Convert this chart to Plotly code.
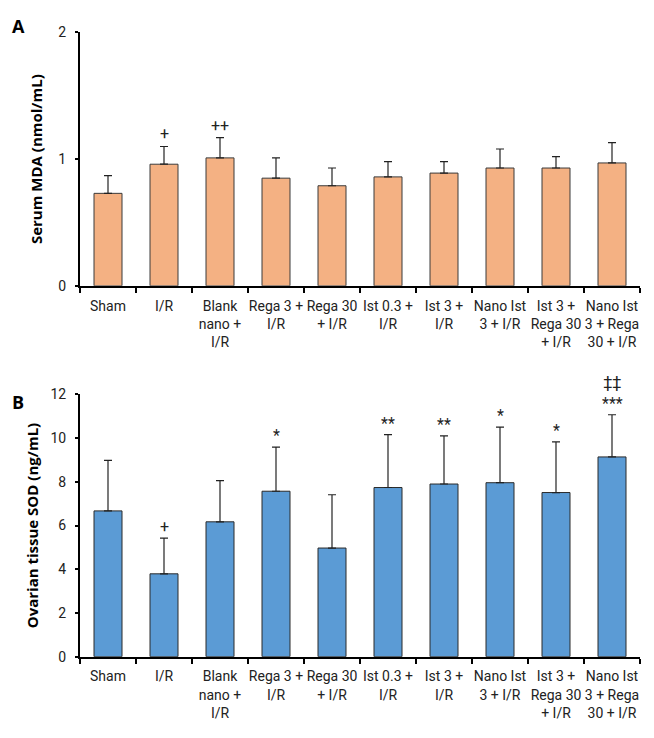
import plotly.graph_objects as go

categories = [
    "Sham", "I/R", "Blank<br>nano +<br>I/R", "Rega 3 +<br>I/R", "Rega 30<br>+ I/R",
    "Ist 0.3 +<br>I/R", "Ist 3 +<br>I/R", "Nano Ist<br>3 + I/R",
    "Ist 3 +<br>Rega 30<br>+ I/R", "Nano Ist<br>3 + Rega<br>30 + I/R",
]

mda_mean = [0.73, 0.96, 1.01, 0.85, 0.79, 0.86, 0.89, 0.93, 0.93, 0.97]
mda_err = [0.14, 0.14, 0.16, 0.16, 0.14, 0.12, 0.09, 0.15, 0.09, 0.16]
mda_marks = ["", "+", "++", "", "", "", "", "", "", ""]

sod_mean = [6.67, 3.79, 6.17, 7.57, 4.97, 7.74, 7.90, 7.96, 7.51, 9.14]
sod_err = [2.31, 1.63, 1.89, 2.02, 2.44, 2.42, 2.20, 2.54, 2.32, 1.93]
sod_marks = ["", "+", "", "*", "", "**", "**", "*", "*", "‡‡<br>***"]

FONT = "Liberation Sans Narrow, Roboto, sans-serif"

fig = go.Figure()

fig.add_trace(go.Bar(
    x=categories, y=mda_mean, xaxis="x", yaxis="y",
    marker=dict(color="#F4B183", line=dict(color="#3a3a3a", width=1)),
    width=0.5,
    error_y=dict(type="data", array=mda_err, arrayminus=[0] * len(mda_err),
                 symmetric=False, color="#222222", thickness=1.2, width=4),
    showlegend=False,
))
fig.add_trace(go.Bar(
    x=categories, y=sod_mean, xaxis="x2", yaxis="y2",
    marker=dict(color="#5B9BD5", line=dict(color="#2a2a2a", width=1)),
    width=0.5,
    error_y=dict(type="data", array=sod_err, arrayminus=[0] * len(sod_err),
                 symmetric=False, color="#222222", thickness=1.2, width=4),
    showlegend=False,
))

annotations = []
for c, m, e, t in zip(categories, mda_mean, mda_err, mda_marks):
    if t:
        annotations.append(dict(x=c, y=m + e, xref="x", yref="y", text=t,
                                showarrow=False, yanchor="bottom", yshift=1,
                                font=dict(family=FONT, size=16, color="#222")))
for c, m, e, t in zip(categories, sod_mean, sod_err, sod_marks):
    if t:
        annotations.append(dict(x=c, y=m + e, xref="x2", yref="y2", text=t,
                                showarrow=False, yanchor="bottom", yshift=0,
                                font=dict(family=FONT, size=16, color="#222")))

annotations.append(dict(x=18 / 654, y=1 - 18 / 738, xref="paper", yref="paper",
                        text="<b>A</b>", showarrow=False, xanchor="center", yanchor="middle",
                        font=dict(family="Open Sans, sans-serif", size=18, color="black")))
annotations.append(dict(x=18 / 654, y=1 - 403 / 738, xref="paper", yref="paper",
                        text="<b>B</b>", showarrow=False, xanchor="center", yanchor="middle",
                        font=dict(family="Open Sans, sans-serif", size=18, color="black")))

xdom = [80 / 654, 640 / 654]
axis_common = dict(showline=True, linecolor="black", linewidth=2, ticks="outside",
                   tickcolor="black", tickwidth=2, showgrid=False,
                   tickfont=dict(family=FONT, size=14, color="#222"))

fig.update_layout(
    width=654, height=738,
    margin=dict(l=0, r=0, t=0, b=0),
    paper_bgcolor="white", plot_bgcolor="white",
    bargap=0.5,
    xaxis=dict(domain=xdom, anchor="y", tickson="boundaries", tickangle=0, ticklen=5,
               ticklabelstandoff=6, **axis_common),
    yaxis=dict(domain=[1 - 284 / 738, 1 - 25 / 738], anchor="x", range=[0, 2],
               tickvals=[0, 1, 2], ticklen=3, ticklabelstandoff=6,
               title=dict(text="<b>Serum MDA (nmol/mL)</b>", standoff=12,
                          font=dict(family="Open Sans, sans-serif", size=15, color="black")),
               **axis_common),
    xaxis2=dict(domain=xdom, anchor="y2", tickson="boundaries", tickangle=0, ticklen=5,
                ticklabelstandoff=6, **axis_common),
    yaxis2=dict(domain=[1 - 663 / 738, 1 - 395 / 738], anchor="x2", range=[0, 12],
                tickvals=[0, 2, 4, 6, 8, 10, 12], ticklen=3, ticklabelstandoff=6,
                title=dict(text="<b>Ovarian tissue SOD (ng/mL)</b>", standoff=8,
                           font=dict(family="Open Sans, sans-serif", size=15, color="black")),
                **axis_common),
    annotations=annotations,
)

fig.write_html("out.html")
